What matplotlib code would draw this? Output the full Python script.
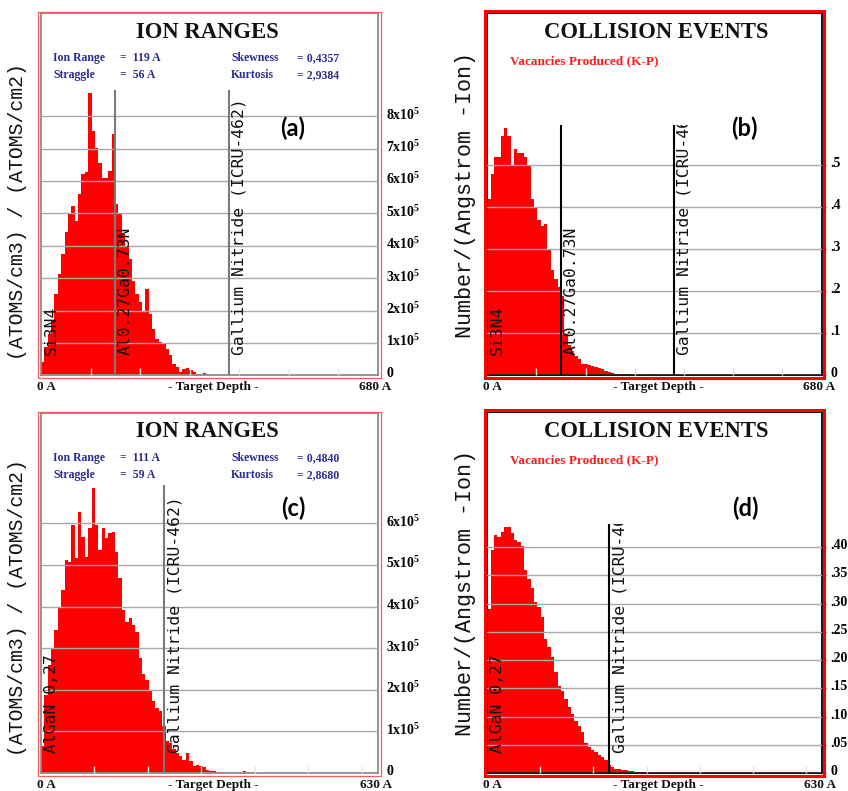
import numpy as np
import matplotlib.pyplot as plt
from matplotlib.patches import Rectangle
from matplotlib.transforms import Bbox, TransformedBbox, ScaledTranslation

W, H = 848, 791

# ion range distributions, units of 1e5 (atoms/cm3)/(atoms/cm2)
ion_a = [0.41, 0.87, 1.28, 1.69, 2.51, 3.13, 3.74, 4.41, 4.97, 5.23,
         4.77, 5.59, 6.21, 6.26, 8.70, 7.54, 7.03, 6.56, 6.10, 6.10,
         6.31, 7.44, 5.30, 4.97, 4.36, 3.95, 3.59, 2.92, 2.51, 2.26,
         2.00, 2.67, 1.90, 1.44, 1.13, 1.03, 0.97, 0.82, 0.62, 0.36,
         0.26, 0.10, 0.20, 0.24, 0.17, 0.10, 0.03, 0.05, 0.07, 0.03]
ion_c = [0.64, 1.88, 2.60, 3.00, 3.44, 4.00, 4.40, 5.12, 5.08, 5.96,
         5.16, 6.28, 5.68, 5.20, 5.88, 6.84, 5.96, 5.36, 5.88, 5.64,
         5.76, 5.80, 5.32, 4.68, 3.92, 3.64, 3.72, 3.56, 3.40, 2.76,
         2.38, 2.24, 2.00, 1.72, 1.56, 1.48, 1.12, 0.76, 0.72, 0.58,
         0.48, 0.42, 0.32, 0.48, 0.28, 0.16, 0.20, 0.18, 0.14, 0.07,
         0.06, 0.04, 0.02, 0.01, 0, 0, 0, 0, 0, 0.02, 0.05, 0.02]

# vacancies produced, number/(Angstrom-Ion)
vac_b = [0.42, 0.48, 0.52, 0.52, 0.57, 0.59, 0.57, 0.50, 0.54, 0.53,
         0.53, 0.52, 0.50, 0.42, 0.40, 0.37, 0.355, 0.36, 0.30, 0.25,
         0.23, 0.21, 0.19, 0.10, 0.072, 0.057, 0.047, 0.039, 0.028, 0.026,
         0.025, 0.023, 0.020, 0.017, 0.014, 0.010, 0.007, 0.005, 0.004, 0.003,
         0.003, 0.002, 0.002, 0.002, 0.001, 0.001, 0.001, 0.001, 0.002]
vac_d = [0.291, 0.394, 0.421, 0.417, 0.427, 0.436, 0.436, 0.424, 0.412, 0.409,
         0.401, 0.359, 0.344, 0.328, 0.303, 0.294, 0.276, 0.238, 0.223, 0.205,
         0.179, 0.155, 0.146, 0.132, 0.118, 0.104, 0.092, 0.083, 0.073, 0.053,
         0.046, 0.041, 0.037, 0.032, 0.028, 0.024, 0.015, 0.011, 0.008, 0.007,
         0.006, 0.005, 0.004, 0.004, 0.003, 0.003, 0.002, 0.002, 0.002, 0.001]

# target layers (start depth in A, name)
layers_top = [(0, "Si3N4"), (150, "Al0.27Ga0.73N"), (380, "Gallium Nitride (ICRU-462)")]
layers_bot = [(0, "AlGaN 0,27"), (230, "Gallium Nitride (ICRU-462)")]

ion_ticks_a = [0, 1, 2, 3, 4, 5, 6, 7, 8]
ion_ticks_c = [0, 1, 2, 3, 4, 5, 6]
vac_ticks_b = [0, 0.1, 0.2, 0.3, 0.4, 0.5]
vac_labels_b = ["0", ".1", ".2", ".3", ".4", ".5"]
vac_ticks_d = [0, 0.05, 0.10, 0.15, 0.20, 0.25, 0.30, 0.35, 0.40]
vac_labels_d = ["0", ".05", ".10", ".15", ".20", ".25", ".30", ".35", ".40"]

stats_a = ["119 A", "56 A", "0,4357", "2,9384"]
stats_c = ["111 A", "59 A", "0,4840", "2,8680"]

SERIF = "Liberation Serif"
MONO = "Liberation Mono"
NAVY = "#2b2b95"

fig = plt.figure(figsize=(W / 100, H / 100), dpi=100)
lift = ScaledTranslation(0, 3 / 100, fig.dpi_scale_trans)


def ftext(x, y, s, **kw):
    return fig.text(x / W, 1 - y / H, s, **kw)


def panel(l, t, r, b, ppu, vals, binw, xmax, layers, ticks, labels,
          collision, tag, ylabel, ylab_x, ylab_y, ylab_size):
    ax = fig.add_axes([l / W, 1 - b / H, (r - l) / W, (b - t) / H])
    edges = np.arange(len(vals)) * binw
    ax.bar(edges, vals, width=binw, align="edge", color="#ff0000", linewidth=0)
    ax.set_xlim(0, xmax)
    ax.set_ylim(0, (b - t) / ppu)
    ax.set_axisbelow(False)

    ax.set_yticks(ticks)
    ax.set_yticklabels(labels, family=SERIF, fontweight="bold", fontsize=10)
    ax.yaxis.tick_right()
    ax.yaxis.grid(True, color="#a8a8a8", lw=1)
    ax.set_xticks(np.arange(100, xmax, 100))
    ax.tick_params(axis="x", direction="in", length=5, color="#e4e4e4",
                   width=1, labelbottom=False, top=False)
    if collision:
        ax.tick_params(axis="y", length=3, color="#ff0000", pad=3)
        edge = "black"
    else:
        ax.tick_params(axis="y", length=0, pad=6)
        edge = "#8a8a8a"
    for lab in ax.get_yticklabels():
        lab.set_transform(lab.get_transform() + lift)
    for sp in ax.spines.values():
        sp.set_color(edge)
        sp.set_linewidth(1.3)

    top = max(vals) * 1.012
    line_col = "black" if collision else "#7a7a7a"
    clip = TransformedBbox(Bbox([[0, 0], [xmax, top]]), ax.transData)
    for start, name in layers:
        if start > 0:
            ax.vlines(start, 0, top, color=line_col, lw=1.5, zorder=3)
        tx = ax.text(start + 20, 20 / ppu, name, rotation=90, ha="center",
                     va="bottom", family="DejaVu Sans Mono", fontsize=11.8,
                     color="#111111", zorder=4)
        tx.set_clip_box(clip)
        tx.set_clip_on(True)

    # outer frame
    if collision:
        fig.add_artist(Rectangle(((l - 2.7) / W, 1 - (b + 2.4) / H),
                                 (r - l + 5.4) / W, (b - t + 4.8) / H,
                                 transform=fig.transFigure, fill=False,
                                 edgecolor="#ff0000", lw=2.2))
    else:
        fig.add_artist(Rectangle(((l - 3) / W, 1 - (b + 3) / H),
                                 (r - l + 5.8) / W, (b - t + 4) / H,
                                 transform=fig.transFigure, fill=False,
                                 edgecolor="#ff5a5a", lw=0.9))

    cx = (l + r) / 2 + 2
    if collision:
        ftext(cx, t + 19, "COLLISION EVENTS", family=SERIF, fontweight="bold",
              fontsize=16.3, ha="center", va="center", color="#111111")
        ftext(l + 23, t + 48, "Vacancies Produced (K-P)", family=SERIF,
              fontweight="bold", fontsize=9.5, color="#ff1a1a", va="center")
    else:
        ftext(cx - 4, t + 19, "ION RANGES", family=SERIF, fontweight="bold",
              fontsize=16.3, ha="center", va="center", color="#111111")
        st = stats_a if xmax == 680 else stats_c
        rows = [("Ion Range", "=  " + st[0], "Skewness", "= " + st[2]),
                ("Straggle", "=  " + st[1], "Kurtosis", "= " + st[3])]
        for k, row in enumerate(rows):
            yy = t + 45 + k * 17
            for xx, s in zip([l + 12, l + 79, l + 190, l + 256], row):
                ftext(xx, yy, s, family=SERIF, fontweight="bold",
                      fontsize=8.5, color=NAVY, va="center")

    ftext(l - 4, b + 12, "0 A", family=SERIF, fontweight="bold", fontsize=9.5,
          va="center", color="#111111")
    ftext((l + r) / 2 + 4, b + 12, "- Target Depth -", family=SERIF,
          fontweight="bold", fontsize=9.5, ha="center", va="center",
          color="#111111")
    ftext(r + 14, b + 12, "%d A" % xmax, family=SERIF, fontweight="bold",
          fontsize=9.5, ha="right", va="center", color="#111111")

    ftext(tag[0], tag[1], tag[2], family="Lato", fontweight="bold",
          fontsize=17, ha="center", va="center", color="black")
    ftext(ylab_x, ylab_y, ylabel, family=MONO, fontsize=ylab_size,
          rotation=90, ha="center", va="center", color="#111111")
    return ax


lab_a = [r"$\mathregular{%dx10^5}$" % v if v else "0" for v in ion_ticks_a]
lab_c = [r"$\mathregular{%dx10^5}$" % v if v else "0" for v in ion_ticks_c]

panel(41, 13, 377.7, 375.3, 32.4, ion_a, 6.8, 680, layers_top,
      ion_ticks_a, lab_a, False, (293, 128, "(a)"),
      "(ATOMS/cm3) / (ATOMS/cm2)", 18, 212, 14.2)
panel(487.3, 13.3, 821.7, 375.3, 420, vac_b, 6.8, 680, layers_top,
      vac_ticks_b, vac_labels_b, True, (744, 128, "(b)"),
      "Number/(Angstrom -Ion)", 466, 195, 15.7)
panel(41, 412.7, 377.7, 773, 41.6, ion_c, 6.3, 630, layers_bot,
      ion_ticks_c, lab_c, False, (293, 508, "(c)"),
      "(ATOMS/cm3) / (ATOMS/cm2)", 18, 608, 14.2)
panel(487.3, 412.3, 821.7, 773.3, 566, vac_d, 6.3, 630, layers_bot,
      vac_ticks_d, vac_labels_d, True, (745, 508, "(d)"),
      "Number/(Angstrom -Ion)", 466, 593, 15.7)

fig.savefig("out.png", dpi=100)
